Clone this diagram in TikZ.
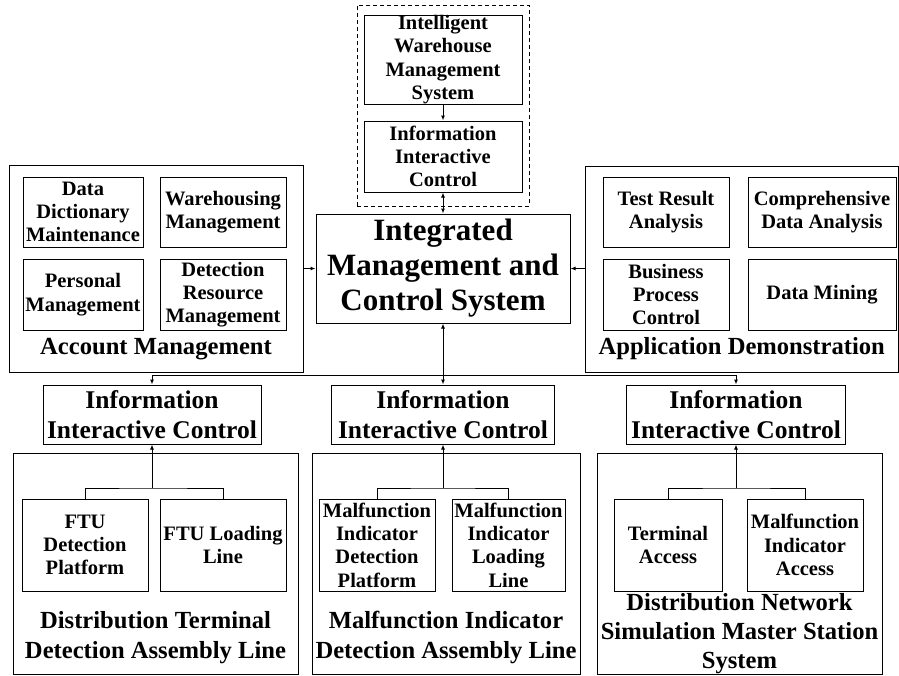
\documentclass[tikz,border=0pt]{standalone}
\usepackage{fontspec}
\setmainfont{Liberation Serif}
\usetikzlibrary{arrows.meta}
\begin{document}
\begin{tikzpicture}[x=1pt,y=-1pt,line width=1pt,
  >={Latex[length=5pt,width=4pt]},
  box/.style={draw,rectangle,inner sep=0pt,align=center},
  subtxt/.style={font=\bfseries\fontsize{20.5}{23.3}\selectfont},
  maintxt/.style={font=\bfseries\fontsize{31}{35}\selectfont},
  lbltxt/.style={font=\bfseries\fontsize{24.6}{30}\selectfont},
  rlbltxt/.style={font=\bfseries\fontsize{24.6}{29}\selectfont},
  iictxt/.style={font=\bfseries\fontsize{25.5}{30}\selectfont},
  dashbox/.style={draw,rectangle,dash pattern=on 4pt off 3pt,inner sep=0pt}]
\useasboundingbox (0,0) rectangle (899,675);

% top dashed group
\node[dashbox,minimum width=172pt,minimum height=201pt] (dash) at (443,105.5) {};
\node[box,subtxt,minimum width=158pt,minimum height=89pt] (iwms) at (443,59.5) {Intelligent\\Warehouse\\Management\\System};
\node[box,subtxt,minimum width=158pt,minimum height=71pt] (iic0) at (443,156.5) {Information\\Interactive\\Control};

% main
\node[box,maintxt,minimum width=254pt,minimum height=109pt] (main) at (443,268.5) {Integrated\\Management and\\Control System};

% account management
\node[box,minimum width=294pt,minimum height=207pt] (acc) at (156,268.5) {};
\node[box,subtxt,minimum width=120pt,minimum height=70pt] (dd) at (83,212) {Data\\Dictionary\\Maintenance};
\node[box,subtxt,minimum width=126pt,minimum height=70pt] (wh) at (223,212) {Warehousing\\Management};
\node[box,subtxt,minimum width=120pt,minimum height=71pt] (pm) at (83,294.5) {Personal\\Management};
\node[box,subtxt,minimum width=126pt,minimum height=71pt] (dr) at (223,294.5) {Detection\\Resource\\Management};
\node[lbltxt,anchor=base,inner sep=0pt] (accl) at (156,354) {Account Management};

% application demonstration
\node[box,minimum width=313.5pt,minimum height=206pt] (app) at (741.75,269) {};
\node[box,subtxt,minimum width=126pt,minimum height=70pt] (tr) at (666,212) {Test Result\\Analysis};
\node[box,subtxt,minimum width=148pt,minimum height=70pt] (cd) at (822,212) {Comprehensive\\Data Analysis};
\node[box,subtxt,minimum width=126pt,minimum height=71pt] (bp) at (666,294.5) {Business\\Process\\Control};
\node[box,subtxt,minimum width=148pt,minimum height=71pt] (dm) at (822,294.5) {Data Mining};
\node[lbltxt,anchor=base,inner sep=0pt] (appl) at (741.75,354) {Application Demonstration};

% information interactive control row
\node[box,iictxt,minimum width=218pt,minimum height=59pt] (iicL) at (152,414.5) {Information\\Interactive Control};
\node[box,iictxt,minimum width=223pt,minimum height=59pt] (iicM) at (443,414.5) {Information\\Interactive Control};
\node[box,iictxt,minimum width=219pt,minimum height=59pt] (iicR) at (736,414.5) {Information\\Interactive Control};

% bottom containers
\node[box,minimum width=285pt,minimum height=221pt] (dtL) at (155.5,563.5) {};
\node[box,minimum width=268pt,minimum height=221pt] (dtM) at (446,563.5) {};
\node[box,minimum width=285pt,minimum height=221pt] (dtR) at (739.5,563.5) {};

\node[box,subtxt,minimum width=126pt,minimum height=92pt] (ftu1) at (85,545) {FTU\\Detection\\Platform};
\node[box,subtxt,minimum width=126pt,minimum height=92pt] (ftu2) at (223,545) {FTU Loading\\Line};
\node[box,subtxt,minimum width=116pt,minimum height=92pt] (mi1) at (377,545) {Malfunction\\Indicator\\Detection\\Platform};
\node[box,subtxt,minimum width=113pt,minimum height=92pt] (mi2) at (508.5,545) {Malfunction\\Indicator\\Loading\\Line};
\node[box,subtxt,minimum width=108pt,minimum height=92pt] (ta) at (668,545) {Terminal\\Access};
\node[box,subtxt,minimum width=116pt,minimum height=92pt] (mia) at (805,545) {Malfunction\\Indicator\\Access};

\node[lbltxt,align=center,anchor=base,inner sep=0pt] (dtLl) at (155.5,658) {Distribution Terminal\\Detection Assembly Line};
\node[lbltxt,align=center,anchor=base,inner sep=0pt] (dtMl) at (446,658) {Malfunction Indicator\\Detection Assembly Line};
\node[rlbltxt,align=center,anchor=base,inner sep=0pt] (dtRl) at (739.5,668) {Distribution Network\\Simulation Master Station\\System};

% connectors top
\draw[->] (iwms.south) -- (iic0.north);
\draw[<->] (iic0.south) -- (main.north);
\draw[->] (acc.east |- main.west) -- (main.west);
\draw[->] (app.west |- main.east) -- (main.east);

% distribution
\coordinate (hl) at (152,375);
\coordinate (hr) at (736,375);
\draw[<->] (main.south) -- (iicM.north);
\draw (hl) -- (hr);
\draw[->] (hl) -- (iicL.north);
\draw[->] (hr) -- (iicR.north);

% trees
\coordinate (fL) at (152,488);
\draw[->] (fL) -- (iicL.south);
\draw (ftu1.north) |- (fL) -| (ftu2.north);
\coordinate (fM) at (443,488);
\draw[->] (fM) -- (iicM.south);
\draw (mi1.north) |- (fM) -| (mi2.north);
\coordinate (fR) at (736,488);
\draw[->] (fR) -- (iicR.south);
\draw (ta.north) |- (fR) -| (mia.north);
\end{tikzpicture}
\end{document}
